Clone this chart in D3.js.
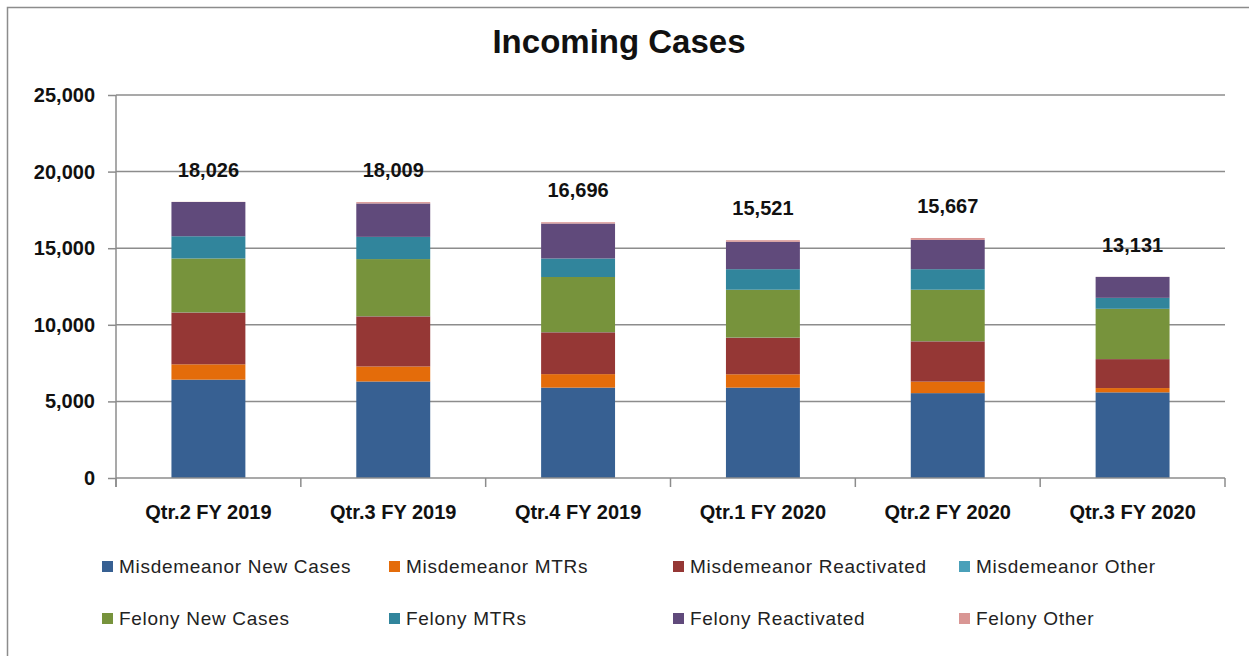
<!DOCTYPE html>
<html>
<head>
<meta charset="utf-8">
<script src="https://cdn.jsdelivr.net/npm/d3@7"></script>
<style>
  body { margin: 0; background: #fff; }
  svg { display: block; font-family: "Liberation Sans", Arial, sans-serif; }
</style>
</head>
<body>
<svg width="1249" height="656"></svg>
<script>
// chart values
const quarters = ['Qtr.2 FY 2019', 'Qtr.3 FY 2019', 'Qtr.4 FY 2019', 'Qtr.1 FY 2020', 'Qtr.2 FY 2020', 'Qtr.3 FY 2020'];
const seriesNames = ['Misdemeanor New Cases', 'Misdemeanor MTRs', 'Misdemeanor Reactivated', 'Misdemeanor Other',
                     'Felony New Cases', 'Felony MTRs', 'Felony Reactivated', 'Felony Other'];
const misdNew         = [6420, 6300, 5900, 5900, 5540, 5590];
const misdMTRs        = [1000,  980,  880,  870,  750,  280];
const misdReactivated = [3380, 3270, 2730, 2390, 2630, 1890];
const misdOther       = [  10,   10,   10,   10,   10,    5];
const felNew          = [3520, 3730, 3600, 3120, 3360, 3280];
const felMTRs         = [1450, 1450, 1210, 1340, 1340,  715];
const felReactivated  = [2236, 2180, 2280, 1790, 1910, 1366];
const felOther        = [  10,   89,   86,  101,  127,    5];
const totals          = [18026, 18009, 16696, 15521, 15667, 13131];
const yTicks = [0, 5000, 10000, 15000, 20000, 25000];

const colors = ['#376092', '#e46c0a', '#953735', '#4aa0b9', '#77933c', '#31859c', '#604a7b', '#d99694'];

const svg = d3.select('svg');

// outer frame (cropped on right and bottom)
svg.append('path')
    .attr('d', 'M7.5,660 L7.5,7.5 L1260,7.5')
    .attr('fill', 'none')
    .attr('stroke', '#8c8c8c')
    .attr('stroke-width', 1.5);

svg.append('text')
    .attr('x', 619)
    .attr('y', 53)
    .attr('text-anchor', 'middle')
    .attr('font-size', 33)
    .attr('font-weight', 'bold')
    .attr('fill', '#111')
    .text('Incoming Cases');

const table = quarters.map(function(q, i) {
    return {
        quarter: q,
        'Misdemeanor New Cases': misdNew[i],
        'Misdemeanor MTRs': misdMTRs[i],
        'Misdemeanor Reactivated': misdReactivated[i],
        'Misdemeanor Other': misdOther[i],
        'Felony New Cases': felNew[i],
        'Felony MTRs': felMTRs[i],
        'Felony Reactivated': felReactivated[i],
        'Felony Other': felOther[i]
    };
});
const stacked = d3.stack().keys(seriesNames)(table);

const x = d3.scaleBand().domain(quarters).range([116, 1225]).paddingInner(0.6).paddingOuter(0.3);
const y = d3.scaleLinear().domain([0, 25000]).range([478, 95]);
const color = d3.scaleOrdinal().domain(seriesNames).range(colors);

// gridlines
svg.append('g')
    .selectAll('line')
    .data(yTicks.slice(1))
    .join('line')
    .attr('x1', 116).attr('x2', 1225)
    .attr('y1', d => y(d)).attr('y2', d => y(d))
    .attr('stroke', '#8c8c8c')
    .attr('stroke-width', 1.5);

// y axis
const yAxis = svg.append('g')
    .attr('transform', 'translate(116,0)')
    .call(d3.axisLeft(y).tickValues(yTicks).tickSize(8).tickPadding(13).tickFormat(d3.format(',')));
yAxis.select('.domain').attr('stroke', '#8c8c8c').attr('stroke-width', 1.5).attr('d', 'M0,95V487');
yAxis.selectAll('.tick line').attr('stroke', '#8c8c8c').attr('stroke-width', 1.5);
yAxis.selectAll('.tick text')
    .attr('font-size', 20)
    .attr('font-weight', 'bold')
    .attr('fill', '#111')
    .attr('font-family', '"Liberation Sans", Arial, sans-serif');

// bars
svg.append('g')
    .selectAll('g')
    .data(stacked)
    .join('g')
    .attr('fill', d => color(d.key))
    .selectAll('rect')
    .data(d => d)
    .join('rect')
    .attr('x', d => x(d.data.quarter))
    .attr('width', x.bandwidth())
    .attr('y', d => y(d[1]))
    .attr('height', d => y(d[0]) - y(d[1]));

// x axis with ticks between categories
const step = x.step();
const bounds = d3.range(quarters.length + 1).map(i => 116 + i * step);
svg.append('line')
    .attr('x1', 116).attr('x2', 1225)
    .attr('y1', 478).attr('y2', 478)
    .attr('stroke', '#8c8c8c')
    .attr('stroke-width', 1.5);
svg.append('g')
    .selectAll('line')
    .data(bounds)
    .join('line')
    .attr('x1', d => d).attr('x2', d => d)
    .attr('y1', 478).attr('y2', 487)
    .attr('stroke', '#8c8c8c')
    .attr('stroke-width', 1.5);
svg.append('g')
    .selectAll('text')
    .data(quarters)
    .join('text')
    .attr('x', d => x(d) + x.bandwidth() / 2)
    .attr('y', 519)
    .attr('text-anchor', 'middle')
    .attr('font-size', 20)
    .attr('font-weight', 'bold')
    .attr('fill', '#111')
    .text(d => d);

// total labels
svg.append('g')
    .selectAll('text')
    .data(totals)
    .join('text')
    .attr('x', (d, i) => x(quarters[i]) + x.bandwidth() / 2)
    .attr('y', d => y(d) - 25)
    .attr('text-anchor', 'middle')
    .attr('font-size', 20)
    .attr('font-weight', 'bold')
    .attr('fill', '#111')
    .text(d => d3.format(',')(d));

// legend: 4 columns, 2 rows
const legendCols = [102, 389, 673, 959];
const legendRows = [567, 619];
const legend = svg.append('g')
    .selectAll('g')
    .data(seriesNames)
    .join('g')
    .attr('transform', (d, i) => 'translate(' + legendCols[i % 4] + ',' + legendRows[Math.floor(i / 4)] + ')');
legend.append('rect')
    .attr('x', 0).attr('y', -6)
    .attr('width', 11).attr('height', 11)
    .attr('fill', d => color(d));
legend.append('text')
    .attr('x', 17)
    .attr('y', 6)
    .attr('font-size', 19)
    .attr('letter-spacing', 0.7)
    .attr('fill', '#222')
    .text(d => d);
</script>
</body>
</html>
